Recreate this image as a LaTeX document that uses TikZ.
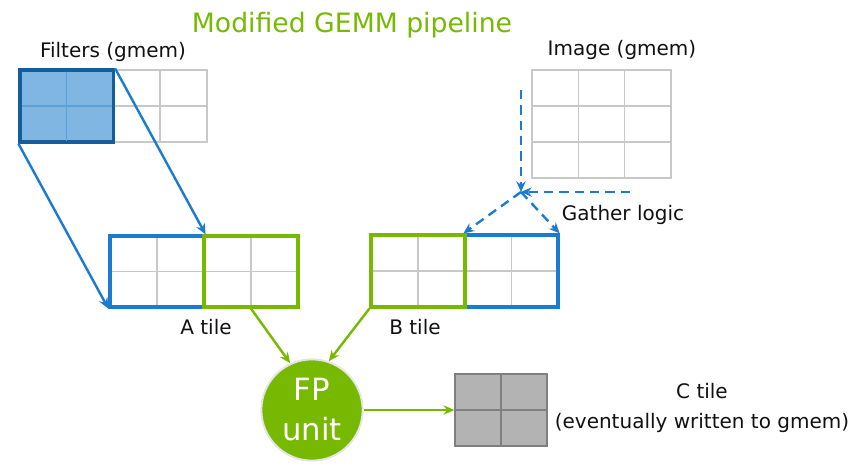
\documentclass[tikz,border=0pt]{standalone}
\usepackage{fontspec}
\setmainfont{DejaVu Sans}
\usepackage{tikz}
\usetikzlibrary{arrows.meta, positioning, calc, fit}
\definecolor{nvgreen}{HTML}{76B900}
\definecolor{tileblue}{HTML}{1B7BD0}
\definecolor{fillblue}{HTML}{7FB6E2}
\definecolor{innerblue}{HTML}{5E9FD4}
\definecolor{darkblue}{HTML}{155E9E}
\definecolor{cellgray}{HTML}{C8C8C8}
\definecolor{ctilefill}{HTML}{B3B3B3}
\definecolor{ctileline}{HTML}{7F7F7F}
\definecolor{textdark}{HTML}{111111}

\begin{document}
\begin{tikzpicture}[
    x=0.75pt, y=-0.75pt,
    label/.style={
        font=\fontsize{15}{22}\selectfont,
        text=textdark,
        align=center,
        inner sep=0pt
    },
    gridline/.style={
        draw=cellgray,
        line width=1.1pt
    },
    bluepart/.style={
        draw=tileblue,
        line width=2.4pt,
        inner sep=0pt
    },
    greenpart/.style={
        draw=nvgreen,
        line width=2.4pt,
        inner sep=0pt
    },
    bluearrow/.style={
        -{Stealth[length=8pt,width=7pt]},
        line width=1.8pt,
        color=tileblue
    },
    dasharrow/.style={
        -{Stealth[length=8pt,width=7pt]},
        line width=1.8pt,
        color=tileblue,
        dash pattern=on 7pt off 4.5pt
    },
    greenarrow/.style={
        -{Stealth[length=8pt,width=7pt]},
        line width=1.8pt,
        color=nvgreen
    },
    fpunit/.style={
        circle,
        fill=nvgreen,
        draw=black!10,
        line width=1.5pt,
        minimum size=76pt,
        inner sep=0pt,
        text=white,
        align=center,
        font=\fontsize{23}{30}\selectfont
    }
]
\useasboundingbox (0,0) rectangle (867,468);

% Title
\node[font=\fontsize{20}{24}\selectfont, text=nvgreen] (title) at (352,25) {Modified GEMM pipeline};

% Filters (gmem)
\node[label] (filtlabel) at (113,52) {Filters (gmem)};
\node[gridline, inner sep=0pt, fit={(20,70)(207,142)}] (filters) {};
\foreach \x in {67,113.5,160} {
    \draw[gridline] (\x,70) -- (\x,142);
}
\draw[gridline] (20,106) -- (207,106);
\node[fill=fillblue, draw=darkblue, line width=2.4pt, inner sep=0pt, fit={(20,70)(113.5,142)}] (filtsel) {};
\draw[innerblue, line width=1pt] (66.75,71.5) -- (66.75,140.5);
\draw[innerblue, line width=1pt] (21.5,106) -- (112,106);

% Image (gmem)
\node[label] (imglabel) at (622,50) {Image (gmem)};
\node[gridline, inner sep=0pt, fit={(532,70)(671,178)}] (image) {};
\foreach \x in {578.3,624.7} {
    \draw[gridline] (\x,70) -- (\x,178);
}
\foreach \y in {106,142} {
    \draw[gridline] (532,\y) -- (671,\y);
}

% A tile
\foreach \x in {157,251} {
    \draw[gridline] (\x,236) -- (\x,307);
}
\draw[gridline] (110,271.5) -- (298,271.5);
\node[bluepart, fit={(110,236)(204,307)}] (atileB) {};
\node[greenpart, fit={(204,236)(298,307)}] (atileG) {};
\node[label] (alabel) at (206,327) {A tile};

% B tile
\foreach \x in {418,511.5} {
    \draw[gridline] (\x,235) -- (\x,307);
}
\draw[gridline] (371,271) -- (558,271);
\node[bluepart, fit={(465,235)(558,307)}] (btileB) {};
\node[greenpart, fit={(371,235)(465,307)}] (btileG) {};
\node[label] (blabel) at (415,327) {B tile};

% C tile
\node[fill=ctilefill, draw=ctileline, line width=1.1pt, inner sep=0pt, fit={(455,374)(547,446)}] (ctile) {};
\draw[ctileline, line width=1.1pt] (501,374) -- (501,446);
\draw[ctileline, line width=1.1pt] (455,410) -- (547,410);
\node[label] (clabel) at (702,408) {C tile\\(eventually written to gmem)};

% FP unit
\node[fpunit] (fp) at (312,410) {FP\\unit};

% Filters -> A tile
\draw[bluearrow] (filtsel.north east) -- (atileB.north east);
\draw[bluearrow] (filtsel.south west) -- (atileB.south west);

% Gather logic
\coordinate (gtop) at (521,90);
\coordinate (gright) at (630,192);
\coordinate (gather) at (521,192);
\draw[dasharrow] (gtop) -- (gather);
\draw[dasharrow] (gright) -- (gather);
\draw[dasharrow] (gather) -- (btileB.north west);
\draw[dasharrow] (gather) -- (btileB.north east);
\node[label] (gatherlabel) at (623,215) {Gather logic};

% Tiles -> FP unit -> C tile
\draw[greenarrow] (atileG.south) -- (fp.115);
\draw[greenarrow] (btileG.south west) -- (fp.71);
\draw[greenarrow] (fp.east) -- (ctile.west);

\end{tikzpicture}
\end{document}
